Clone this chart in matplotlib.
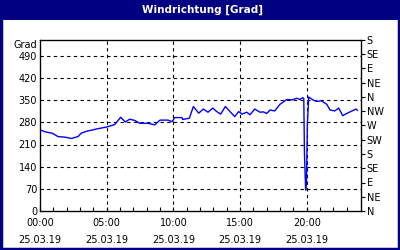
import matplotlib
matplotlib.use("Agg")
import matplotlib.pyplot as plt
from matplotlib.patches import Rectangle

hours = [0.0, 0.48, 0.9, 1.35, 1.9, 2.35, 2.85, 3.1, 3.5, 3.85, 4.35, 4.98, 5.6,
         6.05, 6.4, 6.73, 7.1, 7.48, 7.98, 8.1, 8.6, 9.0, 9.6, 9.9, 10.1, 10.65,
         10.7, 11.2, 11.5, 11.9, 12.25, 12.6, 12.95, 13.25, 13.55, 13.9, 14.25,
         14.6, 14.9, 15.15, 15.5, 15.75, 16.1, 16.5, 16.75, 17.0, 17.25, 17.6,
         18.0, 18.5, 18.9, 19.25, 19.5, 19.7, 19.78, 19.83, 19.92, 19.98, 20.05,
         20.15, 20.5, 20.75, 21.1, 21.5, 21.75, 22.1, 22.4, 22.7, 23.0, 23.4,
         23.7, 23.8]
direction = [256, 249, 246, 235, 233, 229, 235, 246, 252, 255, 260, 265, 273,
             296, 281, 290, 286, 277, 277, 277, 272, 287, 287, 282, 295, 295,
             289, 293, 330, 309, 322, 312, 325, 314, 306, 330, 314,
             298, 314, 306, 312, 304, 322, 312, 313, 308, 319, 316,
             337, 352, 351, 356, 352, 358, 355, 180, 66, 95, 275,
             360, 350, 346, 348, 337, 319, 316, 325, 301, 308, 316,
             322, 318]

left_ticks = [0, 70, 140, 210, 280, 350, 420, 490]
right_ticks = [0, 45, 90, 135, 180, 225, 270, 315, 360, 405, 450, 495, 540]
right_labels = ["N", "NE", "E", "SE", "S", "SW", "W", "NW", "N", "NE", "E", "SE", "S"]
x_major = [0, 5, 10, 15, 20]
x_labels = ["00:00\n25.03.19", "05:00\n25.03.19", "10:00\n25.03.19",
            "15:00\n25.03.19", "20:00\n25.03.19"]
title = "Windrichtung [Grad]"
navy = "#000080"

fig = plt.figure(figsize=(4, 2.5), dpi=100)
fig.patch.set_facecolor("white")

# title bar and border
fig.patches.append(Rectangle((0, 230/250), 1, 20/250, transform=fig.transFigure,
                             facecolor=navy, edgecolor="none", zorder=0))
fig.patches.append(Rectangle((0.0025, 0.004), 0.995, 0.99, transform=fig.transFigure,
                             facecolor="none", edgecolor=navy, linewidth=2.5, zorder=5))
fig.text(0.505, 240/250, title, color="white", fontsize=7.5, fontweight="bold",
         ha="center", va="center")

ax = fig.add_axes([40/400, 39/250, 321/400, 171/250])
ax.plot(hours, direction, color="#0000ff", linewidth=1.0, zorder=3)
ax.set_xlim(0, 24.07)
ax.set_ylim(0, 540)

ax.set_yticks(left_ticks)
ax.set_yticklabels([str(v) for v in left_ticks], fontsize=7)
ax.tick_params(axis="y", length=0, pad=2)
ax.set_xticks(x_major)
ax.set_xticklabels(x_labels, fontsize=7, linespacing=1.9)
ax.set_xticks(range(0, 24), minor=True)
ax.tick_params(axis="x", which="both", direction="in", length=3, width=0.8, pad=5)

for v in left_ticks[1:]:
    ax.axhline(v, color="black", linestyle=(0, (3, 3)), linewidth=0.8, zorder=1)
for v in x_major[1:]:
    ax.axvline(v, color="black", linestyle=(0, (3, 3)), linewidth=0.8, zorder=1)

for s in ax.spines.values():
    s.set_linewidth(0.9)

ax.text(-0.01, 1.0 - 5/171, "Grad", transform=ax.transAxes, fontsize=7,
        ha="right", va="center")

ax2 = ax.twinx()
ax2.set_ylim(0, 540)
ax2.set_yticks(right_ticks)
ax2.set_yticklabels(right_labels, fontsize=7)
ax2.tick_params(axis="y", direction="out", length=3, width=0.8, pad=1)

fig.savefig("out.png", dpi=100)
